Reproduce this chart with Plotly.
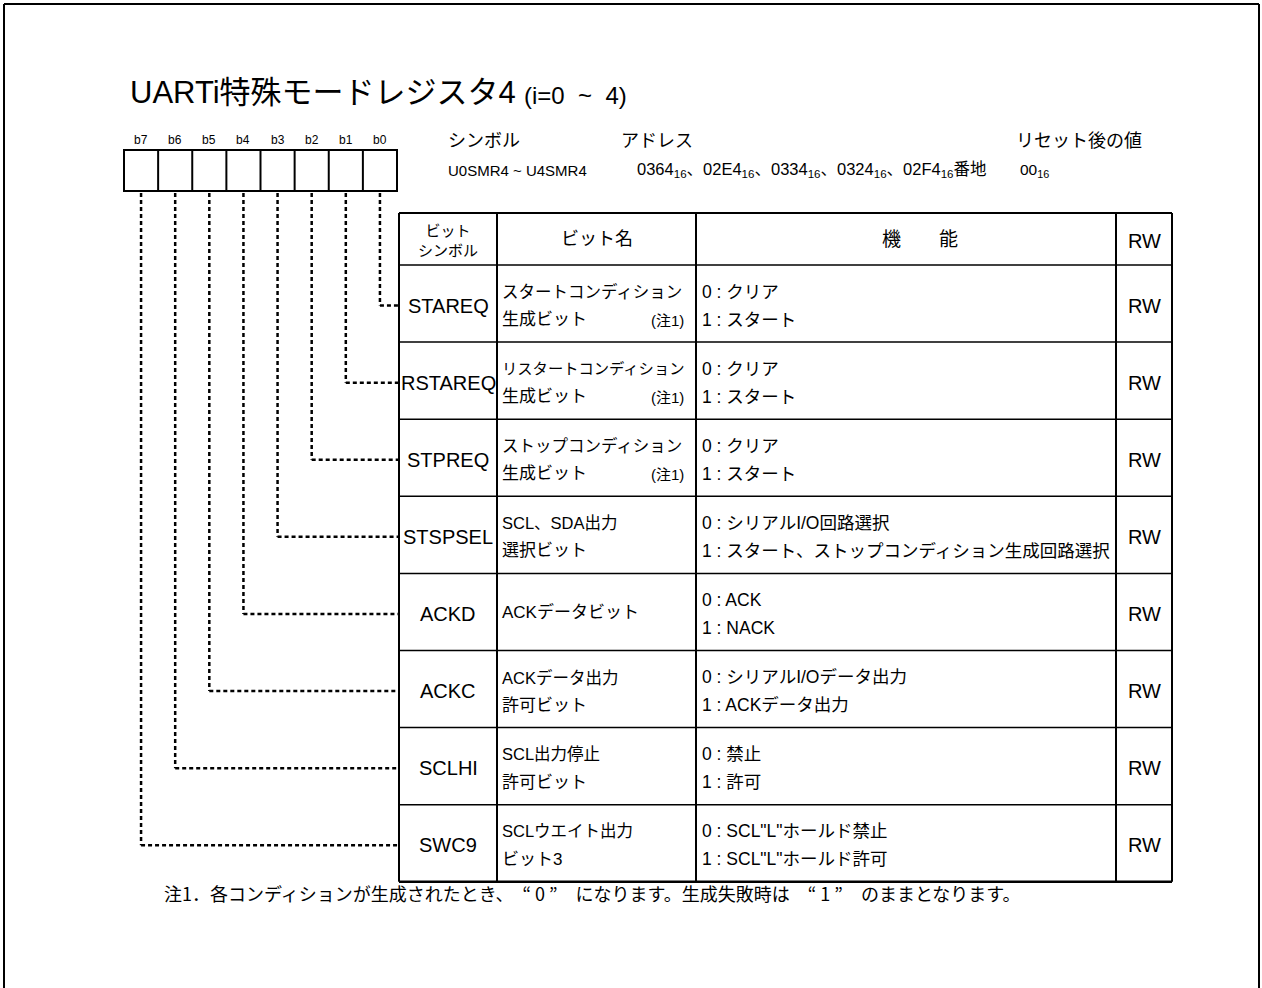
import plotly.graph_objects as go

# ---------------- data ----------------
title_main = "UARTi特殊モードレジスタ4"
title_sub = "(i=0\u00a0\u00a0~\u00a0\u00a04)"
bit_labels = ["b7", "b6", "b5", "b4", "b3", "b2", "b1", "b0"]

info_heads = ["シンボル", "アドレス", "リセット後の値"]
info_values = [
    "U0SMR4 ~ U4SMR4",
    "0364<sub>16</sub>、02E4<sub>16</sub>、0334<sub>16</sub>、0324<sub>16</sub>、02F4<sub>16</sub>番地",
    "00<sub>16</sub>",
]

col_heads = ["ビット<br>シンボル", "ビット名", "機　　能", "RW"]

# rows from top (b0) to bottom (b7)
bit_symbols = ["STAREQ", "RSTAREQ", "STPREQ", "STSPSEL", "ACKD", "ACKC", "SCLHI", "SWC9"]
bit_index = [0, 1, 2, 3, 4, 5, 6, 7]
bit_names = [
    ["スタートコンディション", "生成ビット"],
    ["リスタートコンディション", "生成ビット"],
    ["ストップコンディション", "生成ビット"],
    ["SCL、SDA出力", "選択ビット"],
    ["ACKデータビット"],
    ["ACKデータ出力", "許可ビット"],
    ["SCL出力停止", "許可ビット"],
    ["SCLウエイト出力", "ビット3"],
]
name_notes = ["(注1)", "(注1)", "(注1)", "", "", "", "", ""]
functions = [
    ["0 : クリア", "1 : スタート"],
    ["0 : クリア", "1 : スタート"],
    ["0 : クリア", "1 : スタート"],
    ["0 : シリアルI/O回路選択", "1 : スタート、ストップコンディション生成回路選択"],
    ["0 : ACK", "1 : NACK"],
    ["0 : シリアルI/Oデータ出力", "1 : ACKデータ出力"],
    ["0 : 禁止", "1 : 許可"],
    ["0 : SCL\"L\"ホールド禁止", "1 : SCL\"L\"ホールド許可"],
]
rw = ["RW", "RW", "RW", "RW", "RW", "RW", "RW", "RW"]
footnote = "注1．各コンディションが生成されたとき、　“\u00a00\u00a0”　になります。生成失敗時は　“\u00a01\u00a0”　のままとなります。"

# ---------------- layout geometry ----------------
W, H = 1262, 988
FONT = "Liberation Sans, Noto Sans CJK JP, sans-serif"
FONT_JP = "Noto Sans CJK JP, Liberation Sans, sans-serif"
BLACK = "#000000"

reg_x0, reg_x1, reg_y0, reg_y1 = 124, 397, 150, 191
cw = (reg_x1 - reg_x0) / len(bit_labels)

tab_x = [399, 497, 696, 1116, 1172]
tab_top = 213
head_h = 52
row_h = 77.1
n_rows = len(bit_symbols)
row_tops = [tab_top + head_h + row_h * i for i in range(n_rows + 1)]

shapes = []
annotations = []


def line(x0, y0, x1, y1, w=1.5, dash="solid"):
    shapes.append(dict(type="line", xref="x", yref="y", x0=x0, y0=y0, x1=x1, y1=y1,
                       line=dict(color=BLACK, width=w, dash=dash), layer="above"))


def text(x, y, s, size, xanchor="left", yanchor="middle", align="left", family=FONT):
    annotations.append(dict(x=x, y=y, xref="x", yref="y", text=s, showarrow=False,
                            xanchor=xanchor, yanchor=yanchor, align=align,
                            font=dict(family=family, size=size, color=BLACK)))


# outer frame (bottom edge is below the visible area)
line(4, 4, 1259, 4, w=2)
line(4, 4, 4, H + 5, w=2)
line(1259, 4, 1259, H + 5, w=2)

# title
text(128, 92, title_main, 31)
text(522, 95, title_sub, 24)

# register boxes
shapes.append(dict(type="rect", xref="x", yref="y", x0=reg_x0, y0=reg_y0, x1=reg_x1, y1=reg_y1,
                   line=dict(color=BLACK, width=2)))
for k in range(1, len(bit_labels)):
    line(reg_x0 + cw * k, reg_y0, reg_x0 + cw * k, reg_y1, w=2)
for k, lab in enumerate(bit_labels):
    text(reg_x0 + cw * (k + 0.5), 140, lab, 12, xanchor="center")

# info header
info_x = [446, 619, 1014]
info_vx = [446, 635, 1018]
info_vsize = [15, 16.5, 15.5]
for hx, vx, h, v, vs in zip(info_x, info_vx, info_heads, info_values, info_vsize):
    text(hx, 141, h, 18)
    text(vx, 170, v, vs)

# table lines
tab_bottom = row_tops[-1]
for i, y in enumerate(row_tops):
    line(tab_x[0], y, tab_x[-1], y, w=1.5)
line(tab_x[0], tab_top, tab_x[-1], tab_top, w=2)
line(tab_x[0], tab_bottom, tab_x[-1], tab_bottom, w=2.5)
for x in tab_x:
    line(x, tab_top, x, tab_bottom, w=2)

# table header
hy = tab_top + head_h / 2
text((tab_x[0] + tab_x[1]) / 2, hy + 1, col_heads[0], 15, xanchor="center", align="center")
text((tab_x[1] + tab_x[2]) / 2, hy, col_heads[1], 18, xanchor="center")
text((tab_x[2] + tab_x[3]) / 2 + 14, hy, col_heads[2], 19, xanchor="center")
text((tab_x[3] + tab_x[4]) / 2, hy + 2, col_heads[3], 20, xanchor="center")

# rows
for i in range(n_rows):
    cy = (row_tops[i] + row_tops[i + 1]) / 2
    text((tab_x[0] + tab_x[1]) / 2, cy + 2, bit_symbols[i], 20, xanchor="center")
    nm = bit_names[i]
    if len(nm) == 1:
        text(tab_x[1] + 3, cy, nm[0], 17)
    else:
        size0 = 15.3 if len(nm[0]) > 11 else 16.5
        text(tab_x[1] + 3, cy - 12, nm[0], size0)
        text(tab_x[1] + 3, cy + 16, nm[1], 17)
    if name_notes[i]:
        text(tab_x[2] - 10, cy + 17, name_notes[i], 15, xanchor="right")
    fn = functions[i]
    text(tab_x[2] + 4, cy - 12, fn[0], 17.5)
    text(tab_x[2] + 4, cy + 16, fn[1], 17.5)
    text((tab_x[3] + tab_x[4]) / 2, cy + 2, rw[i], 20, xanchor="center")

    # dotted leader from bit box to the symbol cell
    b = bit_index[i]
    bx = reg_x0 + cw * (len(bit_labels) - 1 - b + 0.5)
    line(bx, reg_y1 + 2, bx, cy + 2, w=2.5, dash="4px,3px")
    line(bx, cy + 2, tab_x[0], cy + 2, w=2.5, dash="4px,3px")

# footnote
text(162, 893, footnote, 18, family=FONT_JP)

fig = go.Figure()
fig.update_layout(
    width=W, height=H,
    margin=dict(l=0, r=0, t=0, b=0),
    paper_bgcolor="white", plot_bgcolor="white",
    xaxis=dict(range=[0, W], visible=False, fixedrange=True),
    yaxis=dict(range=[H, 0], visible=False, fixedrange=True),
    shapes=shapes, annotations=annotations, showlegend=False,
)
fig.write_html("out.html", config={"displayModeBar": False},
               post_script="document.body.style.margin='0';document.body.style.overflow='hidden';")
